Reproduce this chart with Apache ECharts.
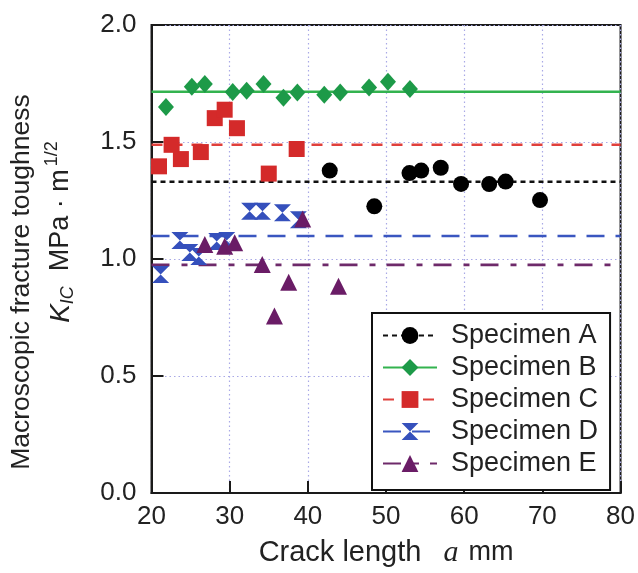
<!DOCTYPE html>
<html>
<head>
<meta charset="utf-8">
<script src="https://cdn.jsdelivr.net/npm/echarts@6/dist/echarts.min.js"></script>
<style>
  html, body { margin: 0; padding: 0; background: #fff; }
  #chart { width: 638px; height: 573px; }
</style>
</head>
<body>
<div id="chart"></div>
<script>
// Axis ticks
const xTicks = [20, 30, 40, 50, 60, 70, 80];
const yTicks = [0.0, 0.5, 1.0, 1.5, 2.0];

// Specimen names and the mean K_IC of each specimen (horizontal reference lines)
const specimenNames = ['Specimen A', 'Specimen B', 'Specimen C', 'Specimen D', 'Specimen E'];
const meanKic = [1.33, 1.715, 1.488, 1.098, 0.975];

// Measured points: crack length a (mm) and K_IC (MPa·m^1/2)
const lengthA = [42.8, 48.5, 53.0, 54.5, 57.0, 59.6, 63.2, 65.3, 69.7];
const kicA    = [1.378, 1.225, 1.367, 1.378, 1.390, 1.321, 1.320, 1.331, 1.252];

const lengthB = [21.85, 25.16, 26.82, 30.39, 32.17, 34.33, 36.88, 38.66, 42.10, 44.14, 47.83, 50.25, 53.06];
const kicB    = [1.650, 1.736, 1.748, 1.714, 1.719, 1.748, 1.689, 1.712, 1.702, 1.712, 1.733, 1.757, 1.727];

const lengthC = [20.96, 22.57, 23.76, 26.31, 28.09, 29.36, 30.93, 35.0, 38.57];
const kicC    = [1.396, 1.488, 1.427, 1.457, 1.602, 1.638, 1.559, 1.365, 1.470];

const lengthD = [21.17, 23.63, 24.9, 26.05, 28.34, 29.62, 32.55, 34.2, 36.75, 38.79];
const kicD    = [0.934, 1.079, 1.028, 1.011, 1.075, 1.079, 1.204, 1.204, 1.198, 1.168];

const lengthE = [26.82, 29.36, 30.64, 34.17, 35.73, 37.55, 39.34, 43.92];
const kicE    = [1.062, 1.055, 1.069, 0.977, 0.756, 0.901, 1.171, 0.884];

const pointLengths = [lengthA, lengthB, lengthC, lengthD, lengthE];
const pointKic = [kicA, kicB, kicC, kicD, kicE];

// Marker and line styling per specimen
const hourglass = 'path://M0,0L20,0L10,9.6L20,19.2L0,19.2L10,9.6Z';
const markerShapes = ['circle', 'diamond', 'rect', hourglass, 'triangle'];
const markerSizes = [16, [16, 18], 16, [17, 17], [17, 17]];
const markerColors = ['#000000', '#1d9a48', '#d42a2a', '#3550bc', '#6a1c66'];
const lineColors = ['#111111', '#33b34f', '#e0403c', '#3a56c0', '#6e2a6a'];
const lineDashes = [[5, 4], 'solid', [11, 9], [18, 11], [18, 12, 6, 11]];

const FONT = '"Liberation Sans", Arial, Helvetica, sans-serif';

const series = [];
// Mean lines first (these also provide the legend icons)
specimenNames.forEach((name, i) => {
  series.push({
    name: name,
    type: 'line',
    data: [[xTicks[0], meanKic[i]], [xTicks[xTicks.length - 1], meanKic[i]]],
    symbol: markerShapes[i],
    showSymbol: false,
    silent: true,
    lineStyle: { color: lineColors[i], width: 2.6, type: lineDashes[i] },
    itemStyle: { color: markerColors[i] },
    z: 2
  });
});
// Measured points
specimenNames.forEach((name, i) => {
  series.push({
    name: name,
    type: 'scatter',
    data: pointLengths[i].map((a, j) => [a, pointKic[i][j]]),
    symbol: markerShapes[i],
    symbolSize: markerSizes[i],
    itemStyle: { color: markerColors[i], opacity: 1 },
    z: 3
  });
});

const chart = echarts.init(document.getElementById('chart'), null, { renderer: 'canvas' });
chart.setOption({
  animation: false,
  backgroundColor: '#ffffff',
  grid: {
    left: 151.5, top: 25, right: 15, bottom: 79,
    show: true, borderColor: '#1a1a1a', borderWidth: 2, backgroundColor: 'transparent'
  },
  xAxis: {
    type: 'value',
    min: xTicks[0], max: xTicks[xTicks.length - 1], interval: 10,
    axisLine: { lineStyle: { color: '#1a1a1a', width: 2 } },
    axisTick: { inside: true, length: 12, lineStyle: { color: '#1a1a1a', width: 2 } },
    axisLabel: { fontSize: 26, color: '#222', fontFamily: FONT, margin: 11 },
    splitLine: { show: true, lineStyle: { color: '#a9a9e6', type: [1.5, 3], width: 1.2 } },
    name: '{t|Crack length}{a|a}{m|mm}',
    nameLocation: 'middle',
    nameGap: 45,
    nameTextStyle: {
      rich: {
        t: { fontSize: 29, fontFamily: FONT, color: '#222' },
        a: { fontSize: 30, fontFamily: '"Liberation Serif", "Times New Roman", serif', fontStyle: 'italic', color: '#222', padding: [0, 10, 0, 22] },
        m: { fontSize: 27, fontFamily: FONT, color: '#222' }
      }
    }
  },
  yAxis: {
    type: 'value',
    min: yTicks[0], max: yTicks[yTicks.length - 1], interval: 0.5,
    axisLine: { lineStyle: { color: '#1a1a1a', width: 2 } },
    axisTick: { inside: true, length: 12, lineStyle: { color: '#1a1a1a', width: 2 } },
    axisLabel: {
      fontSize: 26, color: '#222', fontFamily: FONT, margin: 15,
      formatter: v => v.toFixed(1)
    },
    splitLine: { show: true, lineStyle: { color: '#a9a9e6', type: [1.5, 3], width: 1.2 } }
  },
  legend: {
    orient: 'vertical',
    left: 372, top: 313,
    data: specimenNames,
    itemWidth: 54, itemHeight: 21, itemGap: 5,
    padding: [9, 12, 13, 10],
    backgroundColor: '#ffffff',
    borderColor: '#111111', borderWidth: 2, borderRadius: 0,
    textStyle: { fontSize: 27, color: '#222', fontFamily: FONT, padding: [0, 0, 0, 9] },
    z: 10
  },
  graphic: [
    {
      type: 'text',
      x: 22, y: 282,
      rotation: Math.PI / 2,
      style: {
        text: 'Macroscopic fracture toughness',
        fontSize: 26.5, fontFamily: FONT, fill: '#222',
        align: 'center', verticalAlign: 'middle'
      }
    },
    {
      type: 'text',
      x: 61, y: 232,
      rotation: Math.PI / 2,
      style: {
        text: '{k|K}{s|IC}{t|  MPa · m}{p|1/2}',
        fontFamily: FONT, fill: '#222',
        align: 'center', verticalAlign: 'middle',
        rich: {
          k: { fontSize: 28, fontStyle: 'italic', fontFamily: FONT, fill: '#222', lineHeight: 36, verticalAlign: 'middle' },
          s: { fontSize: 18, fontStyle: 'italic', fontFamily: FONT, fill: '#222', lineHeight: 36, verticalAlign: 'bottom', padding: [0, 0, 2, 0] },
          t: { fontSize: 27, fontFamily: FONT, fill: '#222', lineHeight: 36, verticalAlign: 'middle' },
          p: { fontSize: 18, fontFamily: FONT, fill: '#222', lineHeight: 36, verticalAlign: 'top', padding: [0, 0, 0, 3] }
        }
      }
    }
  ],
  series: series
});
</script>
</body>
</html>
